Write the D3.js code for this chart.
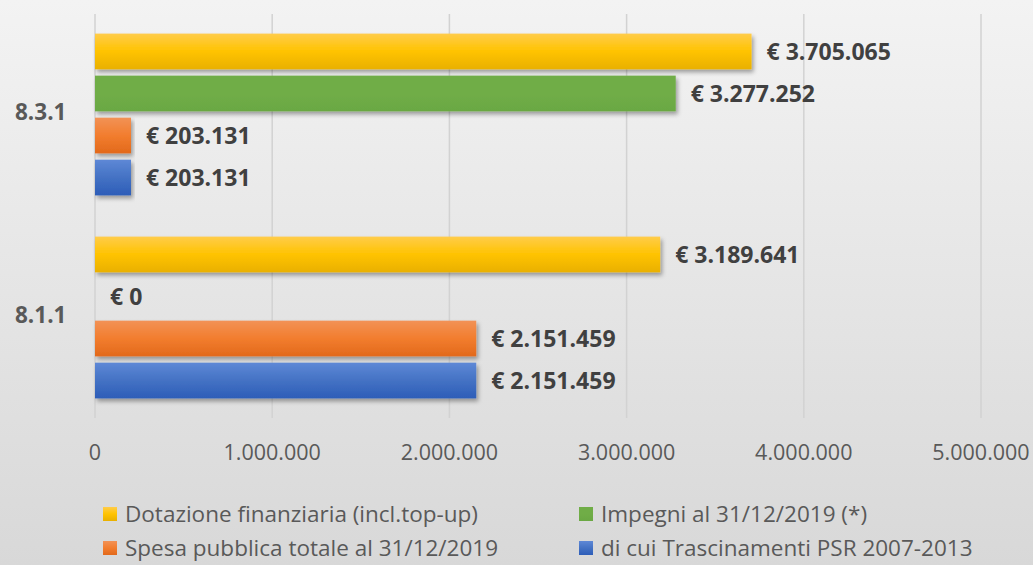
<!DOCTYPE html>
<html>
<head>
<meta charset="utf-8">
<script src="https://cdn.jsdelivr.net/npm/d3@7"></script>
<style>
  html, body { margin: 0; padding: 0; }
  body { width: 1033px; height: 565px; overflow: hidden; }
  svg { display: block; font-family: "Open Sans", sans-serif; }
</style>
</head>
<body>
<svg id="chart" width="1033" height="565"></svg>
<script>
// categories, top to bottom as in the picture
const categories = ["8.3.1", "8.1.1"];
const seriesNames = [
  "Dotazione finanziaria (incl.top-up)",
  "Impegni al 31/12/2019 (*)",
  "Spesa pubblica totale al 31/12/2019",
  "di cui Trascinamenti PSR 2007-2013"
];
const dotazione = [3705065, 3189641];
const impegni = [3277252, 0];
const spesa = [203131, 2151459];
const trascinamenti = [203131, 2151459];
const xTicks = [0, 1000000, 2000000, 3000000, 4000000, 5000000];

const seriesValues = [dotazione, impegni, spesa, trascinamenti];
const seriesColors = [
  ["#ffcc4a", "#ffc300", "#e9b000"],
  ["#70ad47", "#70ad47", "#6aa843"],
  ["#f29256", "#f27d2e", "#e2691b"],
  ["#5e88d6", "#4472c4", "#2d5db8"]
];

const it = d3.formatLocale({ decimal: ",", thousands: ".", grouping: [3], currency: ["€ ", ""] });
const fmtTick = it.format(",d");
const fmtLabel = it.format("$,d");

const svg = d3.select("#chart");
const defs = svg.append("defs");

// background
const bg = defs.append("linearGradient").attr("id", "bg")
  .attr("x1", 0).attr("y1", 0).attr("x2", 0).attr("y2", 1);
bg.append("stop").attr("offset", "0%").attr("stop-color", "#f3f3f3");
bg.append("stop").attr("offset", "100%").attr("stop-color", "#d8d8d8");
svg.append("rect").attr("width", 1033).attr("height", 565).attr("fill", "url(#bg)");

seriesColors.forEach((c, i) => {
  const g = defs.append("linearGradient").attr("id", "grad" + i)
    .attr("x1", 0).attr("y1", 0).attr("x2", 0).attr("y2", 1);
  g.append("stop").attr("offset", "0%").attr("stop-color", c[0]);
  g.append("stop").attr("offset", "50%").attr("stop-color", c[1]);
  g.append("stop").attr("offset", "100%").attr("stop-color", c[2]);
});

const shadow = defs.append("filter").attr("id", "shadow")
  .attr("x", "-5%").attr("y", "-20%").attr("width", "115%").attr("height", "160%");
shadow.append("feDropShadow").attr("dx", 2).attr("dy", 3).attr("stdDeviation", 2)
  .attr("flood-color", "#000").attr("flood-opacity", 0.35);

const x = d3.scaleLinear().domain([0, 5000000]).range([95, 981]);
const y = d3.scaleBand().domain(categories).range([13, 419])
  .paddingInner(0.172).paddingOuter(0.086);
const ys = d3.scaleBand().domain(d3.range(seriesNames.length)).range([0, y.bandwidth()])
  .paddingInner(0.15).paddingOuter(0.075);

// gridlines
svg.append("g").selectAll("line").data(xTicks).join("line")
  .attr("x1", d => x(d)).attr("x2", d => x(d))
  .attr("y1", 14).attr("y2", 418)
  .attr("stroke", "#d2d2d2").attr("stroke-width", 1.5);

// tick labels
svg.append("g").selectAll("text").data(xTicks).join("text")
  .attr("x", d => x(d)).attr("y", 452).attr("dy", "0.35em")
  .attr("text-anchor", "middle")
  .attr("font-size", 21.5).attr("fill", "#595959")
  .text(d => fmtTick(d));

// category labels
svg.append("g").selectAll("text").data(categories).join("text")
  .attr("x", 15).attr("y", d => y(d) + y.bandwidth() / 2 - 2).attr("dy", "0.35em")
  .attr("font-size", 22.5).attr("font-weight", "bold").attr("fill", "#595959")
  .text(d => d);

// bars
const rows = [];
categories.forEach((c, ci) => {
  seriesValues.forEach((vals, si) => rows.push({ cat: c, s: si, v: vals[ci] }));
});

const barG = svg.append("g");
barG.selectAll("rect").data(rows.filter(d => d.v > 0)).join("rect")
  .attr("x", x(0))
  .attr("y", d => y(d.cat) + ys(d.s))
  .attr("width", d => x(d.v) - x(0))
  .attr("height", ys.bandwidth())
  .attr("fill", d => "url(#grad" + d.s + ")")
  .attr("filter", "url(#shadow)");

svg.append("g").selectAll("text").data(rows).join("text")
  .attr("x", d => x(d.v) + 15)
  .attr("y", d => y(d.cat) + ys(d.s) + ys.bandwidth() / 2).attr("dy", "0.35em")
  .attr("font-size", 23).attr("font-weight", "bold").attr("fill", "#404040")
  .text(d => fmtLabel(d.v));

// legend
const legendPos = [[103, 514], [579, 514], [103, 548], [579, 548]];
const lg = svg.append("g").selectAll("g").data(seriesNames).join("g")
  .attr("transform", (d, i) => `translate(${legendPos[i][0]},${legendPos[i][1]})`);
lg.append("rect").attr("x", 0).attr("y", -7).attr("width", 14).attr("height", 14)
  .attr("fill", (d, i) => "url(#grad" + i + ")");
lg.append("text").attr("x", 22).attr("dy", "0.35em")
  .attr("font-size", 22.5).attr("fill", "#595959")
  .text(d => d);
</script>
</body>
</html>
